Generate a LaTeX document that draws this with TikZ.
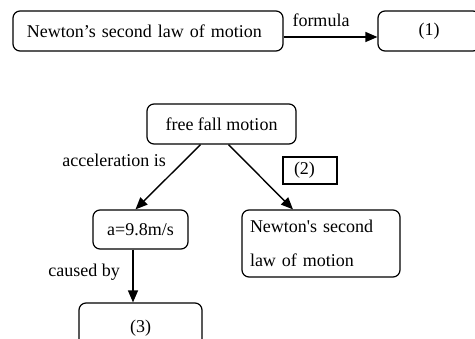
\documentclass[tikz,border=0pt]{standalone}
\usepackage{fontspec}
\setmainfont{Liberation Serif}
\usetikzlibrary{arrows.meta}
\font\straightserif="Liberation Serif" at 18pt
\begin{document}
\begin{tikzpicture}[x=1pt,y=-1pt, font=\fontsize{18}{22}\selectfont,
  box/.style={draw, rounded corners=7pt, line width=1.2pt, inner sep=0pt},
  arr/.style={-{Triangle[length=12pt,width=10pt]}, line width=1.4pt},
  lbl/.style={inner sep=0pt}]
\useasboundingbox (0,0) rectangle (475,339);
\clip (0,0) rectangle (475,339);

\node[box, minimum width=270pt, minimum height=40pt, text width=242pt, align=left, inner xsep=14pt] (nsl) at (148,31) {Newton’s second law of motion};
\node[box, minimum width=102pt, minimum height=40pt] (f1) at (429,31) {(1)};
\draw[arr] ([yshift=-6pt]nsl.east) -- ([yshift=-6pt]f1.west);
\node[lbl] (formula) at (321,20) {formula};

\node[box, minimum width=149pt, minimum height=40pt] (ff) at (221.5,124) {free fall motion};
\node[box, minimum width=95pt, minimum height=39pt] (acc) at (140.5,229.5) {a=9.8m/s};
\node[box, minimum width=158pt, minimum height=67pt, text width=142pt, align=left, inner xsep=8pt,
      font={\fontsize{18}{34}\selectfont\straightserif}] (nl) at (321,243.5) {Newton's second\\law of motion};
\node[box, sharp corners, minimum width=54pt, minimum height=27pt, text width=32pt, align=left, inner xsep=11pt] (q2) at (310,170.5) {(2)};
\node[box, minimum width=123pt, minimum height=50pt] (q3) at (140.5,328) {(3)};

\draw[arr] ([xshift=-21pt]ff.south) -- ([xshift=-5pt]acc.north);
\draw[arr] ([xshift=7pt]ff.south) -- ([xshift=-28pt]nl.north);
\draw[arr] ([xshift=-7.5pt]acc.south) -- ([xshift=-7.5pt]q3.north);
\node[lbl, anchor=east] (accis) at (166,160) {acceleration is};
\node[lbl, anchor=east] (cb) at (120,272) {caused by};
\end{tikzpicture}
\end{document}
